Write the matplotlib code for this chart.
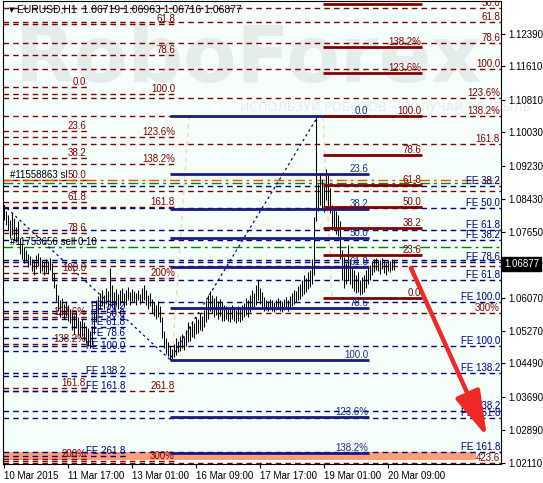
import matplotlib.pyplot as plt
from matplotlib.transforms import blended_transform_factory

plt.rcParams['font.family'] = ['Liberation Sans', 'DejaVu Sans']

# EURUSD H1 bars from 10 Mar 2015 09:00, one entry per hour
bar_high = [1.0829, 1.0815, 1.0806, 1.0792, 1.0810, 1.0798, 1.0775, 1.0790, 1.0750, 1.0735,
            1.0728, 1.0720, 1.0712, 1.0706, 1.0700, 1.0696, 1.0708, 1.0715, 1.0704, 1.0698,
            1.0692, 1.0700, 1.0694, 1.0702, 1.0690, 1.0665, 1.0640, 1.0612, 1.0600, 1.0606,
            1.0592, 1.0598, 1.0588, 1.0580, 1.0572, 1.0566, 1.0574, 1.0560, 1.0552, 1.0556,
            1.0548, 1.0540, 1.0534, 1.0528, 1.0540, 1.0572, 1.0600, 1.0610, 1.0618, 1.0626,
            1.0614, 1.0630, 1.0622, 1.0679, 1.0636, 1.0620, 1.0628, 1.0615, 1.0624, 1.0630,
            1.0618, 1.0625, 1.0632, 1.0620, 1.0628, 1.0622, 1.0618, 1.0626, 1.0616, 1.0630,
            1.0638, 1.0624, 1.0612, 1.0618, 1.0604, 1.0596, 1.0590, 1.0598, 1.0586, 1.0560,
            1.0528, 1.0510, 1.0500, 1.0490, 1.0484, 1.0496, 1.0510, 1.0504, 1.0516, 1.0520,
            1.0512, 1.0530, 1.0548, 1.0540, 1.0552, 1.0545, 1.0560, 1.0555, 1.0570, 1.0564,
            1.0578, 1.0600, 1.0612, 1.0622, 1.0614, 1.0605, 1.0610, 1.0598, 1.0604, 1.0596,
            1.0590, 1.0586, 1.0580, 1.0584, 1.0590, 1.0582, 1.0578, 1.0586, 1.0580, 1.0588,
            1.0594, 1.0606, 1.0600, 1.0612, 1.0624, 1.0618, 1.0636, 1.0648, 1.0630, 1.0620,
            1.0608, 1.0602, 1.0598, 1.0604, 1.0600, 1.0596, 1.0602, 1.0606, 1.0600, 1.0598,
            1.0604, 1.0608, 1.0602, 1.0610, 1.0618, 1.0626, 1.0622, 1.0634, 1.0640, 1.0648,
            1.0660, 1.0654, 1.0668, 1.0674, 1.0700, 1.0800, 1.1040, 1.0880, 1.0905, 1.0892,
            1.0876, 1.0915, 1.0900, 1.0870, 1.0830, 1.0820, 1.0815, 1.0805, 1.0790, 1.0720,
            1.0705, 1.0690, 1.0733, 1.0700, 1.0680, 1.0672, 1.0660, 1.0668, 1.0650, 1.0656,
            1.0662, 1.0672, 1.0680, 1.0686, 1.0694, 1.0700, 1.0702, 1.0698, 1.0696, 1.0702,
            1.0696, 1.0690, 1.0698, 1.0694, 1.0700, 1.0696]
bar_low = [1.0792, 1.0780, 1.0768, 1.0750, 1.0758, 1.0744, 1.0740, 1.0745, 1.0712, 1.0700,
           1.0690, 1.0695, 1.0680, 1.0684, 1.0670, 1.0662, 1.0676, 1.0682, 1.0666, 1.0670,
           1.0660, 1.0668, 1.0664, 1.0672, 1.0650, 1.0630, 1.0598, 1.0575, 1.0560, 1.0566,
           1.0556, 1.0562, 1.0550, 1.0545, 1.0530, 1.0520, 1.0534, 1.0518, 1.0512, 1.0514,
           1.0506, 1.0498, 1.0492, 1.0486, 1.0494, 1.0520, 1.0548, 1.0568, 1.0580, 1.0586,
           1.0580, 1.0592, 1.0584, 1.0596, 1.0590, 1.0578, 1.0588, 1.0580, 1.0590, 1.0596,
           1.0584, 1.0590, 1.0600, 1.0588, 1.0598, 1.0596, 1.0590, 1.0600, 1.0592, 1.0596,
           1.0600, 1.0588, 1.0580, 1.0586, 1.0570, 1.0562, 1.0555, 1.0560, 1.0548, 1.0510,
           1.0486, 1.0472, 1.0466, 1.0458, 1.0460, 1.0464, 1.0470, 1.0476, 1.0480, 1.0486,
           1.0482, 1.0490, 1.0500, 1.0504, 1.0512, 1.0510, 1.0520, 1.0522, 1.0530, 1.0528,
           1.0536, 1.0548, 1.0556, 1.0574, 1.0570, 1.0560, 1.0566, 1.0556, 1.0562, 1.0552,
           1.0550, 1.0556, 1.0552, 1.0548, 1.0556, 1.0550, 1.0546, 1.0552, 1.0548, 1.0554,
           1.0560, 1.0566, 1.0560, 1.0572, 1.0580, 1.0584, 1.0590, 1.0600, 1.0592, 1.0582,
           1.0576, 1.0578, 1.0574, 1.0580, 1.0576, 1.0572, 1.0578, 1.0580, 1.0576, 1.0572,
           1.0578, 1.0582, 1.0576, 1.0580, 1.0586, 1.0592, 1.0596, 1.0600, 1.0604, 1.0610,
           1.0616, 1.0620, 1.0628, 1.0632, 1.0640, 1.0660, 1.0790, 1.0815, 1.0830, 1.0820,
           1.0812, 1.0840, 1.0826, 1.0810, 1.0770, 1.0775, 1.0760, 1.0755, 1.0700, 1.0650,
           1.0630, 1.0640, 1.0650, 1.0640, 1.0630, 1.0622, 1.0618, 1.0620, 1.0612, 1.0616,
           1.0620, 1.0630, 1.0640, 1.0650, 1.0660, 1.0668, 1.0672, 1.0670, 1.0664, 1.0676,
           1.0666, 1.0660, 1.0670, 1.0668, 1.0674, 1.0672]
last_close = 1.06877
header = "EURUSD,H1  1.06719 1.06963 1.06716 1.06877"

time_ticks = [0, 32, 64, 96, 128, 160, 192]
time_labels = ["10 Mar 2015", "11 Mar 17:00", "13 Mar 01:00", "16 Mar 09:00",
               "17 Mar 17:00", "19 Mar 01:00", "20 Mar 09:00"]
price_ticks = [1.02110, 1.02890, 1.03690, 1.04490, 1.05270, 1.06070, 1.07650,
               1.08430, 1.09230, 1.10030, 1.10810, 1.11610, 1.12390]

# fibonacci tools: level %, label, price at 0%, price at 100%
navy_levels = [0, 23.6, 38.2, 50, 61.8, 78.6, 100, 123.6, 138.2]
navy_texts = ['0.0', '23.6', '38.2', '50.0', '61.8', '78.6', '100.0', '123.6%', '138.2%']
navy_p0, navy_p100 = 1.1042, 1.0458

red_levels = [0, 23.6, 38.2, 50, 61.8, 78.6, 100, 123.6, 138.2, 161.8]
red_texts = ['0.0', '23.6', '38.2', '50.0', '61.8', '78.6', '100.0', '123.6%', '138.2%', '161.8%']
red_p0, red_p100 = 1.0607, 1.1042

left1_levels = [0, 23.6, 38.2, 50, 61.8, 78.6, 100, 123.6, 138.2, 161.8, 200]
left1_texts = ['0.0', '23.6', '38.2', '50.0', '61.8', '78.6', '100.0', '123.6%', '138.2%', '161.8', '200%']
left1_p0, left1_p100 = 1.1112, 1.0666

left2_levels = [61.8, 78.6, 100, 123.6, 138.2, 161.8, 200, 261.8, 300]
left2_texts = ['61.8', '78.6', '100.0', '123.6%', '138.2%', '161.8', '200%', '261.8', '300%']
left2_p0, left2_p100 = 1.1535, 1.1095

wide_levels = [50, 61.8, 78.6, 100, 123.6, 138.2, 161.8, 200, 261.8, 300, 423.6]
wide_texts = ['50.0', '61.8', '78.6', '100.0', '123.6%', '138.2%', '161.8', '', '', '300%', '423.6']
wide_p0, wide_p100 = 1.1447, 1.1155

feA_levels = [38.2, 50, 61.8, 78.6, 100, 138.2, 161.8]
feA_texts = ['FE 38.2', 'FE 50.0', 'FE 61.8', 'FE 78.6', 'FE 100.0', 'FE 138.2', 'FE 161.8']
feA_p0, feA_p100 = 1.1047, 1.0597

feB_levels = [38.2, 50, 61.8, 100, 138.2, 161.8]
feB_texts = ['FE 38.2', '', 'FE 61.8', 'FE 100.0', 'FE 138.2', 'FE 161.8']
feB_p0, feB_p100 = 1.0902, 1.0491

feC_levels = [38.2, 50, 61.8, 78.6, 100, 138.2, 161.8, 261.8]
feC_texts = ['FE 38.2', 'FE 50.0', 'FE 61.8', 'FE 78.6', 'FE 100.0', 'FE 138.2', 'FE 161.8', 'FE 261.8']
feC_p0, feC_p100 = 1.0633, 1.0478

# order lines
sl_price = 1.0889
open_price = 1.0881
sell_price = 1.0729

# trend lines (bar, price)
fe_path_x = [-0.5, 83, 157]
fe_path_y = [1.0830, 1.0458, 1.1042]
peach1 = ([92.5, 84], [1.1042, 1.0458])
peach2 = ([159.5, 164], [1.1040, 1.0607])
arrow_from = (203.5, 1.0678)
arrow_to = (241.5, 1.0273)
band_x = [-0.5, 236]
band_y = (1.0218, 1.0237)

MAROON = '#800000'
NAVY = '#000080'
BG = '#F5FFFA'

fig = plt.figure(figsize=(5.43, 4.83), dpi=100)
ax = fig.add_axes([3 / 543, 19 / 483, 498 / 543, 463 / 483])
ax.set_facecolor(BG)
ax.set_xlim(-0.5, 248.5)
ax.set_ylim(1.0208, 1.1318)

# watermark
ax.text(0.024, 0.825, 'RoboForex', transform=ax.transAxes, fontsize=56, fontweight='bold',
        color='#E5ECEC', family='DejaVu Sans', va='baseline', zorder=0)
ax.text(0.476, 0.762, 'ИСПОЛЬЗУЙ РОБОТОВ – ПОЛУЧАЙ ПРИБЫЛЬ', transform=ax.transAxes,
        fontsize=9, color='#E6ECEC', family='DejaVu Sans', va='baseline', zorder=0)

ax.fill_between(band_x, band_y[0], band_y[1], color='#FFA07A', lw=0, zorder=1)


def fib(levels, texts, p0, p100, x0, x1, color, lw, dashed, tcolor):
    for lv, t in zip(levels, texts):
        y = p0 + lv / 100 * (p100 - p0)
        if dashed:
            ax.plot([x0, x1], [y, y], color=color, lw=lw, dashes=(4, 3), zorder=2)
        else:
            ax.plot([x0, x1], [y, y], color=color, lw=lw, solid_capstyle='butt', zorder=3)
        if t:
            ax.text(x1 - 0.5, y, t, ha='right', va='bottom', fontsize=7, color=tcolor,
                    clip_on=True, zorder=4)


fib(left1_levels, left1_texts, left1_p0, left1_p100, -0.5, 41.5, MAROON, 1.0, True, MAROON)
fib(left2_levels, left2_texts, left2_p0, left2_p100, -0.5, 86, MAROON, 1.0, True, MAROON)
fib(wide_levels, wide_texts, wide_p0, wide_p100, -0.5, 248.5, MAROON, 1.0, True, MAROON)
fib(feA_levels, feA_texts, feA_p0, feA_p100, -0.5, 248.5, NAVY, 1.0, True, NAVY)
fib(feB_levels, feB_texts, feB_p0, feB_p100, -0.5, 248.5, NAVY, 1.0, True, NAVY)
fib(feC_levels, feC_texts, feC_p0, feC_p100, -0.5, 61, NAVY, 1.0, True, NAVY)
fib(navy_levels, navy_texts, navy_p0, navy_p100, 83, 182.5, '#1A1A80', 2.0, False, '#1A2A8A')
fib(red_levels, red_texts, red_p0, red_p100, 159.5, 209, MAROON, 2.0, False, MAROON)

# order lines
ax.axhline(sl_price, color='#FF4500', lw=1.0, dashes=(7, 3, 2, 3), zorder=2)
ax.axhline(open_price, color='#008000', lw=1.0, dashes=(7, 3, 2, 3), zorder=2)
ax.axhline(sell_price, color='#008000', lw=1.0, dashes=(7, 3, 2, 3), zorder=2)
ax.text(3, sl_price, '#11558863 sl', fontsize=7, color='black', va='bottom', zorder=4)
ax.text(3, sell_price, '#11753656 sell 0.10', fontsize=7, color='black', va='bottom', zorder=4)

# trend lines of the tools
ax.plot(fe_path_x, fe_path_y, color=NAVY, lw=0.9, dashes=(2, 2.5), zorder=2)
ax.plot(peach1[0], peach1[1], color='#FFD0A8', lw=1.0, dashes=(3, 3), zorder=2)
ax.plot(peach2[0], peach2[1], color='#FFD0A8', lw=1.0, dashes=(3, 3), zorder=2)

# price bars
idx = list(range(len(bar_high)))
ax.vlines(idx, bar_low, bar_high, color='black', lw=0.75, zorder=2.5)

ax.annotate('', xy=arrow_to, xytext=arrow_from,
            arrowprops=dict(arrowstyle='-|>,head_length=1.4,head_width=0.4', color='#F02828',
                            lw=3.2, mutation_scale=20, shrinkA=0, shrinkB=0), zorder=5)

# axes
for s in ax.spines.values():
    s.set_color('black')
    s.set_linewidth(0.8)
ax.yaxis.tick_right()
ax.set_yticks(price_ticks)
ax.set_yticklabels(['%.5f' % p for p in price_ticks])
ax.tick_params(axis='y', length=3, width=0.8, pad=2, labelsize=7, colors='black')
ax.set_xticks(time_ticks)
ax.set_xticklabels(time_labels)
ax.tick_params(axis='x', length=3, width=0.8, pad=2, labelsize=7, colors='black')
for lab in ax.get_xticklabels():
    lab.set_horizontalalignment('left')

tr = blended_transform_factory(ax.transAxes, ax.transData)
ax.text(1.006, last_close, '%.5f' % last_close, transform=tr, color='white', fontsize=7,
        va='center', ha='left', clip_on=False, zorder=6,
        bbox=dict(facecolor='black', edgecolor='black', pad=1.5))

fig.text(9 / 543, 1 - 10 / 483, '▼', fontsize=5, family='DejaVu Sans', va='center')
fig.text(17 / 543, 1 - 10 / 483, header, fontsize=7.5, va='center')

fig.savefig('out.png', dpi=100, facecolor='white')
